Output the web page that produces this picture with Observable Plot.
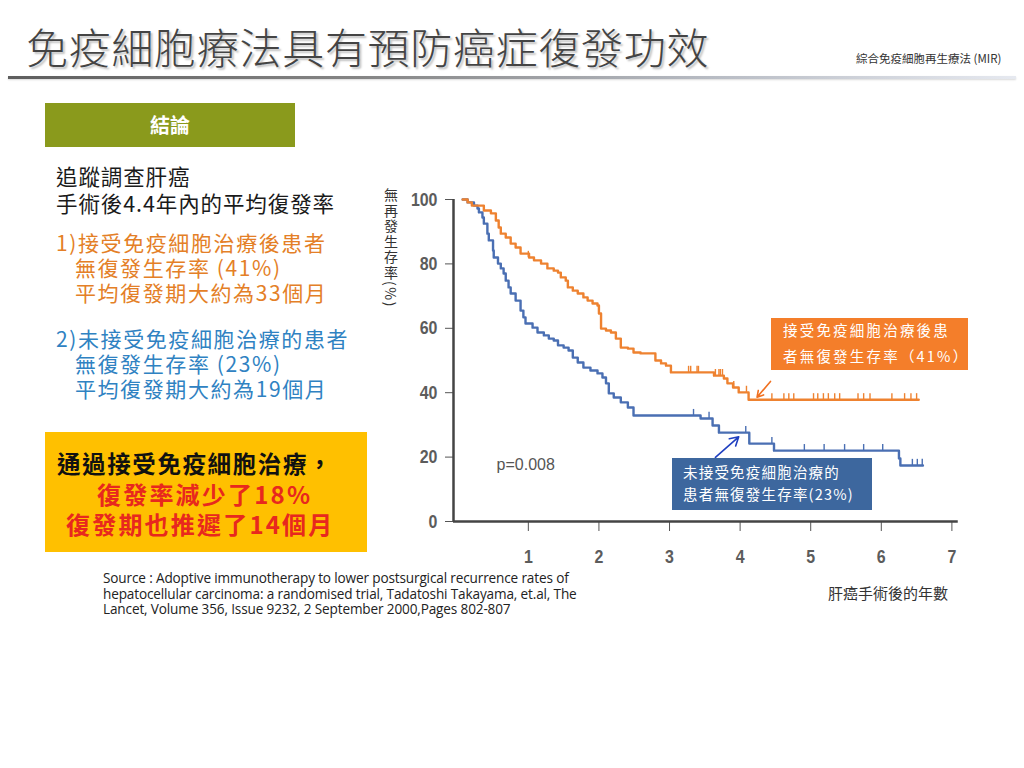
<!DOCTYPE html>
<html>
<head>
<meta charset="utf-8">
<script src="https://cdn.jsdelivr.net/npm/d3@7"></script>
<script src="https://cdn.jsdelivr.net/npm/@observablehq/plot@0.6"></script>
<style>
  html, body { margin: 0; padding: 0; background: #fff; }
  #page { position: relative; width: 1024px; height: 768px; overflow: hidden; background: #fff;
          font-family: "Noto Sans CJK TC", "Noto Sans", sans-serif; }
  .t { position: absolute; white-space: nowrap; }
  #chart { position: absolute; left: 380px; top: 180px; }
  .box { position: absolute; color: #fff; overflow: hidden; font-family: "Noto Sans CJK TC", sans-serif; }
</style>
</head>
<body>
<div id="page"></div>
<script>
// ---------------- DATA ----------------
// Kaplan-Meier step points (years after surgery, recurrence-free survival %)
const treatedTime = [0.07,0.14,0.20,0.37,0.47,0.54,0.58,0.61,0.68,0.75,0.82,0.89,1.01,1.08,1.18,1.27,1.36,1.42,1.46,1.53,1.56,1.63,1.70,1.78,1.84,1.91,1.98,2.00,2.03,2.10,2.17,2.24,2.31,2.41,2.49,2.59,2.80,2.88,2.95,3.02,3.63,3.77,3.82,3.90,3.98,4.12,6.53];
const treatedSurv = [100,99.1,98.1,96.6,95.7,93.5,91.3,89.4,88.2,86.3,85.1,83.2,82.0,81.1,80.1,78.6,77.9,77.3,75.8,74.8,72.7,71.7,70.8,69.6,68.6,67.7,67.1,64.6,59.9,59.3,58.7,56.8,54.0,53.7,52.5,52.2,50.0,49.1,48.4,46.3,45.3,44.4,42.9,41.6,40.1,37.8,37.8];
const treatedCensorTime = [1.00,3.27,3.30,3.39,3.41,3.65,3.70,3.72,3.75,3.91,4.09,4.45,4.62,4.69,4.76,5.04,5.10,5.18,5.25,5.34,5.41,5.67,5.75,5.84,6.15,6.33,6.42,6.50];
const treatedCensorSurv = [82.0,46.3,46.3,46.3,46.3,45.3,45.3,45.3,45.3,41.6,40.1,37.8,37.8,37.8,37.8,37.8,37.8,37.8,37.8,37.8,37.8,37.8,37.8,37.8,37.8,37.8,37.8,37.8];

const controlTime = [0.07,0.14,0.23,0.28,0.30,0.35,0.37,0.42,0.44,0.50,0.51,0.57,0.61,0.65,0.68,0.72,0.75,0.82,0.89,0.93,0.96,1.06,1.13,1.22,1.29,1.36,1.42,1.50,1.57,1.63,1.70,1.78,1.88,1.98,2.05,2.10,2.14,2.21,2.31,2.41,2.49,3.44,3.61,3.70,4.13,4.48,6.25,6.27,6.59];
const controlSurv = [100,99.1,98.1,97.2,96.0,94.4,92.5,89.4,87.3,84.2,82.0,80.1,78.6,77.0,74.8,72.7,70.8,68.6,65.5,63.4,61.5,60.2,58.7,57.8,56.8,56.2,54.7,54.0,53.1,50.9,49.4,47.8,46.9,46.0,44.7,42.9,39.8,38.5,37.0,35.4,32.9,32.0,29.8,27.6,24.2,22.0,19.6,17.4,17.4];
const controlCensorTime = [3.34,3.56,4.08,4.45,4.91,5.19,5.48,5.75,6.02,6.44,6.51,6.58];
const controlCensorSurv = [32.9,32.0,27.6,24.2,22.0,22.0,22.0,22.0,22.0,17.4,17.4,17.4];

const xTicks = [1,2,3,4,5,6,7];
const yTicks = [0,20,40,60,80,100];

// annotation arrows (data coordinates: tail -> head)
const arrowTreated = [{x1:4.43, y1:43.5, x2:4.24, y2:38.6}];
const arrowControl = [{x1:3.65, y1:19.9, x2:3.98, y2:26.3}];

// ---------------- TEXT ----------------
const titleText = "免疫細胞療法具有預防癌症復發功效";
const brandText = "綜合免疫細胞再生療法 (MIR)";
const conclusionLabel = "結論";
const introLines = ["追蹤調查肝癌", "手術後4.4年內的平均復發率"];
const treatedLines = ["1)接受免疫細胞治療後患者", "\u00a0\u00a0\u00a0無復發生存率 (41%)", "\u00a0\u00a0\u00a0平均復發期大約為33個月"];
const controlLines = ["2)未接受免疫細胞治療的患者", "\u00a0\u00a0\u00a0無復發生存率 (23%)", "\u00a0\u00a0\u00a0平均復發期大約為19個月"];
const highlightLines = ["通過接受免疫細胞治療，", "復發率減少了18%", "復發期也推遲了14個月"];
const sourceLines = [
  "Source : Adoptive immunotherapy to lower postsurgical recurrence rates of",
  "hepatocellular carcinoma: a randomised trial, Tadatoshi Takayama, et.al, The",
  "Lancet, Volume 356,  Issue 9232, 2 September 2000,Pages 802-807"
];
const yLabel = "無再發生存率(%)";
const xLabel = "肝癌手術後的年數";
const pText = "p=0.008";
const treatedBoxLines = ["接受免疫細胞治療後患", "者無復發生存率（41%）"];
const controlBoxLines = ["未接受免疫細胞治療的", "患者無復發生存率(23%)"];

// ---------------- COLORS ----------------
const orange = "#ee8230";
const blue = "#4a6fb3";

// ---------------- LAYOUT ----------------
const page = document.getElementById("page");
function block(lines, o) {
  const d = document.createElement("div");
  d.className = "t";
  d.style.left = o.x + "px";
  d.style.top = (o.cy - o.lh / 2) + "px";
  d.style.fontSize = o.fs + "px";
  d.style.lineHeight = o.lh + "px";
  d.style.color = o.color || "#222";
  if (o.weight) d.style.fontWeight = o.weight;
  if (o.ls != null) d.style.letterSpacing = o.ls + "px";
  if (o.family) d.style.fontFamily = o.family;
  if (o.shadow) d.style.textShadow = o.shadow;
  lines.forEach((s, i) => {
    const sp = document.createElement("div");
    sp.textContent = s;
    if (o.offsets) sp.style.marginLeft = o.offsets[i] + "px";
    d.appendChild(sp);
  });
  (o.parent || page).appendChild(d);
  return d;
}
function rect(o) {
  const d = document.createElement("div");
  d.style.position = "absolute";
  d.style.left = o.x + "px"; d.style.top = o.y + "px";
  d.style.width = o.w + "px"; d.style.height = o.h + "px";
  d.style.background = o.bg;
  if (o.cls) d.className = o.cls;
  page.appendChild(d);
  return d;
}

// title
block([titleText], {x: 26, cy: 46, fs: 42, lh: 50, color: "#444", ls: 0.7, weight: 300, shadow: "2px 2px 2px rgba(0,0,0,0.25)"});
block([brandText], {x: 856, cy: 58, fs: 11.5, lh: 14, color: "#333"});
// divider
const bar = rect({x: 8, y: 76, w: 1008, h: 3, bg: "linear-gradient(to right, #5e5e5e 0%, #858585 35%, #b8bcc4 70%, #e6e9f0 100%)"});
bar.style.boxShadow = "0 1px 2px rgba(0,0,0,0.15)";

// conclusion header
rect({x: 45, y: 103, w: 250, h: 44, bg: "#8a9a1c"});
const cl = block([conclusionLabel], {x: 45, cy: 125, fs: 20, lh: 24, color: "#fff", weight: "bold"});
cl.style.width = "250px"; cl.style.textAlign = "center";

// intro
block(introLines, {x: 56, cy: 175, fs: 21.5, lh: 27, color: "#1a1a1a", ls: 0.9});
// treated summary
block(treatedLines, {x: 56, cy: 242, fs: 21, lh: 25, color: "#e47f27", ls: 1.6});
// control summary
block(controlLines, {x: 56, cy: 338, fs: 21, lh: 25, color: "#2f82c2", ls: 1.6});

// highlight box
rect({x: 45, y: 432, w: 322, h: 120, bg: "#ffc000"});
block([highlightLines[0]], {x: 57, cy: 463, fs: 23.5, lh: 28, color: "#111", weight: "bold", ls: 1.6});
block(highlightLines.slice(1), {x: 66, cy: 494, fs: 24, lh: 30, color: "#e8281e", weight: "bold", ls: 2.2, offsets: [31, 0]});

// source
block(sourceLines, {x: 103, cy: 578, fs: 13.6, lh: 15.5, color: "#222", family: "'Open Sans', sans-serif", ls: -0.15});

// ---------------- CHART ----------------
const treated = treatedTime.map((t, i) => ({t, s: treatedSurv[i]}));
const control = controlTime.map((t, i) => ({t, s: controlSurv[i]}));
const treatedCensor = treatedCensorTime.map((t, i) => ({t, s: treatedCensorSurv[i]}));
const controlCensor = controlCensorTime.map((t, i) => ({t, s: controlCensorSurv[i]}));

const tickFont = "'Liberation Sans', Arial, sans-serif";
const x0 = -0.06;

const chart = Plot.plot({
  width: 600, height: 440,
  marginLeft: 73, marginRight: 28.6, marginTop: 19, marginBottom: 99,
  x: {domain: [x0, 7]},
  y: {domain: [0, 100]},
  style: {background: "transparent", overflow: "visible", fontFamily: tickFont},
  marks: [
    Plot.axisX({ticks: xTicks, tickSize: 10, tickPadding: 18, fontSize: 19, fontWeight: "bold", stroke: "#555", fill: "#5c5c5c", label: null, tickFormat: d => d}),
    Plot.axisY({ticks: yTicks, tickSize: 8, tickPadding: 8, fontSize: 19, fontWeight: "bold", stroke: "#555", fill: "#5c5c5c", label: null, tickFormat: d => d}),
    Plot.ruleX([x0], {y1: 0, y2: 100, stroke: "#444", strokeWidth: 2.5}),
    Plot.ruleY([0], {x1: x0, x2: 7.09, stroke: "#444", strokeWidth: 2.5}),
    Plot.line(control, {x: "t", y: "s", curve: "step-after", stroke: blue, strokeWidth: 2.4}),
    Plot.ruleX(controlCensor, {x: "t", y1: "s", y2: d => d.s + 1.9, stroke: blue, strokeWidth: 1.4}),
    Plot.line(treated, {x: "t", y: "s", curve: "step-after", stroke: orange, strokeWidth: 2.4}),
    Plot.ruleX(treatedCensor, {x: "t", y1: "s", y2: d => d.s + 1.9, stroke: orange, strokeWidth: 1.4}),
    Plot.text([pText], {x: 0.55, y: 17.7, text: d => d, fontSize: 16, fill: "#555", textAnchor: "start", fontFamily: "'Liberation Sans', Arial, sans-serif"}),
    Plot.arrow(arrowTreated, {x1: "x1", y1: "y1", x2: "x2", y2: "y2", stroke: "#f07020", strokeWidth: 1.6, headLength: 9}),
    Plot.arrow(arrowControl, {x1: "x1", y1: "y1", x2: "x2", y2: "y2", stroke: "#1f3fc0", strokeWidth: 1.6, headLength: 9})
  ]
});
chart.id = "chart";
// condense the tick labels (narrow, condensed digits as in the reference)
chart.querySelectorAll("g[aria-label='x-axis tick label'] text, g[aria-label='y-axis tick label'] text").forEach(t => {
  const tr = t.getAttribute("transform");
  if (tr) t.setAttribute("transform", tr + " scale(0.84,1)");
  else {
    const x = +(t.getAttribute("x") || 0), y = +(t.getAttribute("y") || 0);
    t.removeAttribute("x"); t.removeAttribute("y");
    t.setAttribute("transform", `translate(${x},${y}) scale(0.84,1)`);
  }
});
page.appendChild(chart);

// axis titles
const yl = block([yLabel], {x: 383, cy: 195, fs: 14, lh: 16, color: "#333"});
yl.style.top = "188px";
yl.style.writingMode = "vertical-rl";
yl.style.letterSpacing = "1.5px";
block([xLabel], {x: 828, cy: 593, fs: 15, lh: 18, color: "#333"});

// annotation boxes
const ob = rect({x: 771, y: 318, w: 197, h: 52, bg: "#f47e2a", cls: "box"});
block(treatedBoxLines, {x: 12, cy: 12, fs: 14.5, lh: 26, color: "#fff", ls: 2.2, parent: ob});
const bb = rect({x: 672, y: 458, w: 200, h: 52, bg: "#3d679e", cls: "box"});
block(controlBoxLines, {x: 11, cy: 14, fs: 14.5, lh: 22, color: "#fff", ls: 1.2, parent: bb});
</script>
</body>
</html>
